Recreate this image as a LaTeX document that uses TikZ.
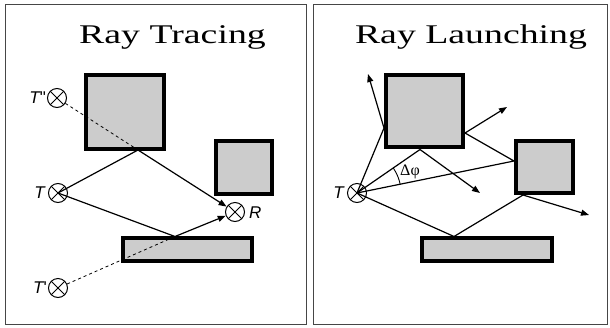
\documentclass[tikz,border=0pt]{standalone}
\usepackage{fontspec}
\setmainfont{Liberation Serif}
\newfontfamily\lblfont{Liberation Sans}
\usetikzlibrary{arrows.meta}
\definecolor{boxgray}{RGB}{204,204,204}
\definecolor{framegray}{RGB}{70,70,70}
\tikzset{
  panel/.style={draw=framegray, line width=1pt},
  title/.style={anchor=base, inner sep=0pt, xscale=1.4,
    font=\fontsize{27}{27}\selectfont},
  wall/.style={draw, fill=boxgray, line width=4pt, rectangle, inner sep=0pt},
  xmark/.style={circle, draw, line width=1pt, minimum size=19pt, inner sep=0pt,
    path picture={
      \draw[line width=1pt] (path picture bounding box.north west) -- (path picture bounding box.south east)
        (path picture bounding box.north east) -- (path picture bounding box.south west);}},
  lbl/.style={inner sep=0pt, font=\lblfont\fontsize{17}{17}\selectfont\itshape},
  ray/.style={line width=1.2pt},
  arr/.style={ray, -{Triangle[length=8pt,width=6pt]}},
  image/.style={dash pattern=on 3pt off 3pt, line width=0.8pt}
}
\begin{document}
\begin{tikzpicture}[x=1pt, y=-1pt]
\useasboundingbox (0,0) rectangle (610,327);

% panel frames
\draw[panel] (5,4) rectangle (306,324);
\draw[panel] (313,4) rectangle (607,324);

% titles
\node[title] (t1) at (172.5,43) {Ray Tracing};
\node[title] (t2) at (471,43) {Ray Launching};

% ---------------- Ray tracing ----------------
\node[wall, minimum width=78pt, minimum height=74pt] (a1) at (125,111.5) {};
\node[wall, minimum width=56pt, minimum height=53.5pt] (a2) at (244,167.25) {};
\node[wall, minimum width=129pt, minimum height=22.5pt] (a3) at (187.5,249.25) {};

\node[xmark] (T) at (58,193) {};
\node[xmark] (T2) at (57,98) {};
\node[xmark] (T1) at (58,288) {};
\node[xmark] (R) at (235,212) {};

\node[lbl, anchor=east] (lT) at (45,193) {T};
\node[lbl, anchor=east] (lT2) at (46,98) {T\upshape\char"22};
\node[lbl, anchor=east] (lT1) at (47,288) {T\upshape\char"27};
\node[lbl, anchor=west] (lR) at (249,213) {R};

\coordinate (p1) at (138,150);
\coordinate (p2) at (175,236.5);

\draw[image] (T2) -- (p1);
\draw[image] (T1) -- (p2);
\draw[arr] (T.center) -- (p1) -- (R);
\draw[arr] (T.center) -- (p2) -- (R);

% ---------------- Ray launching ----------------
\node[wall, minimum width=77pt, minimum height=72.5pt] (b1) at (424.5,110.75) {};
\node[wall, minimum width=56.5pt, minimum height=52.5pt] (b2) at (544.25,166.75) {};
\node[wall, minimum width=130pt, minimum height=22.5pt] (b3) at (487,249.25) {};

\node[xmark] (S) at (357,193) {};
\node[lbl, anchor=east] (lS) at (344,193) {T};

\coordinate (q1) at (384,128);
\coordinate (e1) at (368,74);
\coordinate (q2) at (420,149.5);
\coordinate (e2) at (480,193);
\coordinate (q3) at (514,161);
\coordinate (q3b) at (465,133);
\coordinate (e3) at (507,107);
\coordinate (q4) at (454,236.5);
\coordinate (q4b) at (523,195);
\coordinate (e4) at (589,215);

\draw[arr] (S.center) -- (q1) -- (e1);
\draw[arr] (S.center) -- (q2) -- (e2);
\draw[arr] (S.center) -- (q3) -- (q3b) -- (e3);
\draw[arr] (S.center) -- (q4) -- (q4b) -- (e4);

% angular spacing between neighbouring rays
\draw[line width=0.9pt] plot[domain=11.5:34.3, samples=24, smooth]
  ({357+44*cos(\x)}, {193-44*sin(\x)});
\node[inner sep=0pt, font=\fontsize{16}{16}\selectfont] (dphi) at (410,172) {Δφ};
\end{tikzpicture}
\end{document}
